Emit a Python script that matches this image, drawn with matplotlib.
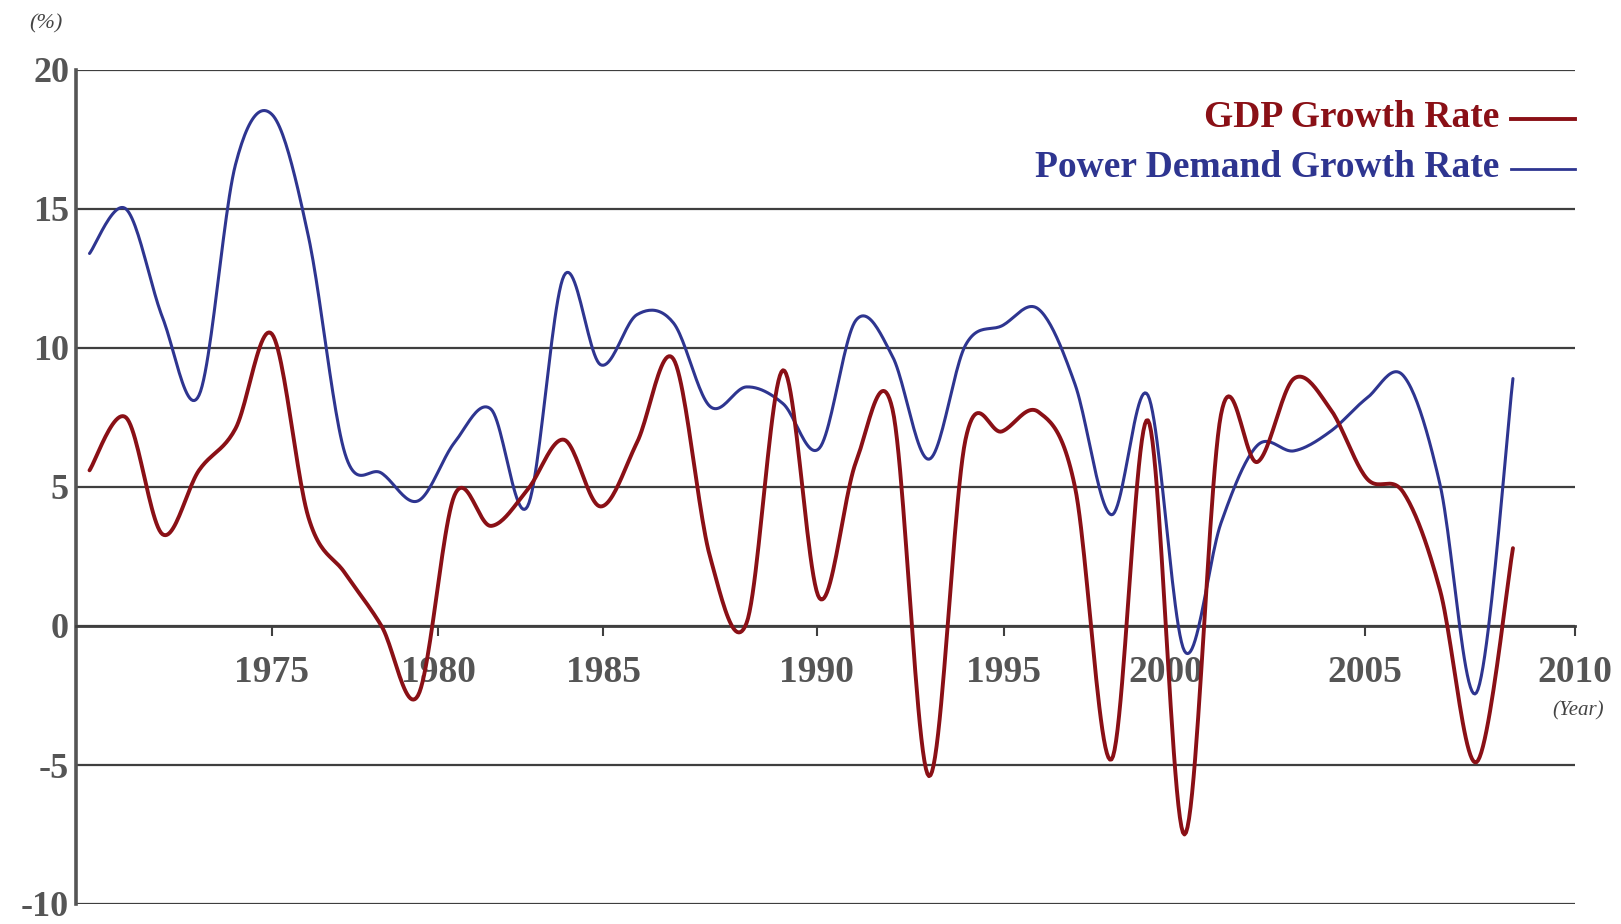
import numpy as np
import matplotlib
matplotlib.use("Agg")
import matplotlib.pyplot as plt

# ---- data ----
years = list(range(1970, 2010))
gdp_growth = [5.6, 7.5, 3.3, 5.6, 7.1, 10.5, 3.9, 1.9, 0.0, -2.5,
              4.7, 3.6, 4.9, 6.7, 4.3, 6.6, 9.6, 2.5, 0.1, 9.2,
              1.0, 5.9, 7.8, -5.4, 6.7, 7.0, 7.7, 5.0, -4.8, 7.4,
              -7.5, 7.6, 5.9, 8.9, 7.8, 5.3, 4.8, 1.3, -4.9, 2.8]
power_growth = [13.4, 15.0, 11.1, 8.3, 16.6, 18.4, 14.0, 6.2, 5.5, 4.5,
                6.6, 7.8, 4.3, 12.6, 9.4, 11.2, 10.9, 7.9, 8.6, 8.0,
                6.4, 11.0, 9.7, 6.0, 10.1, 10.8, 11.4, 8.7, 4.0, 8.3,
                -0.9, 3.7, 6.5, 6.3, 7.0, 8.2, 9.0, 5.1, -2.4, 8.9]
tick_labels = ["1975", "1980", "1985", "1990", "1995", "2000", "2005", "2010"]
# positions of the year labels along the axis, as placed in the reference
tick_pos = [1975.0, 1979.55, 1984.07, 1989.93, 1995.05, 1999.49, 2004.95, 2010.70]
y_ticks = [-10, -5, 0, 5, 10, 15, 20]
series_names = ["GDP Growth Rate", "Power Demand Growth Rate"]

RED = "#8A1016"
BLUE = "#2E3590"
GRID = "#3f3f3f"
LABEL = "#555555"


def smooth(x, y, n=24):
    """Excel-like smoothed line (uniform Catmull-Rom as cubic Bezier)."""
    p = np.column_stack([x, y]).astype(float)
    out = []
    m = len(p)
    t = np.linspace(0, 1, n, endpoint=False)[:, None]
    for i in range(m - 1):
        p0 = p[i - 1] if i > 0 else p[i]
        p1, p2 = p[i], p[i + 1]
        p3 = p[i + 2] if i + 2 < m else p[i + 1]
        c1 = p1 + (p2 - p0) / 6.0
        c2 = p2 - (p3 - p1) / 6.0
        seg = ((1 - t) ** 3) * p1 + 3 * ((1 - t) ** 2) * t * c1 + 3 * (1 - t) * t ** 2 * c2 + t ** 3 * p2
        out.append(seg)
    out.append(p[-1][None, :])
    out = np.vstack(out)
    return out[:, 0], out[:, 1]


fig = plt.figure(figsize=(16.21, 9.24), dpi=100)
ax = fig.add_axes([76 / 1621, 1 - 904 / 924, (1575 - 76) / 1621, (904 - 70) / 924])

bx, by = smooth(years, power_growth)
ax.plot(bx, by, color=BLUE, lw=2.2, solid_capstyle="round", zorder=3)
rx, ry = smooth(years, gdp_growth)
ax.plot(rx, ry, color=RED, lw=2.8, solid_capstyle="round", zorder=4)

ax.set_xlim(1969.63, 2010.70)
ax.set_ylim(-10, 20)

ax.set_yticks(y_ticks)
ax.set_yticklabels([str(v) for v in y_ticks])
ax.yaxis.grid(True, color=GRID, lw=1.6)
ax.set_axisbelow(True)

ax.set_xticks(tick_pos)
ax.set_xticklabels(tick_labels)

for s in ["top", "right"]:
    ax.spines[s].set_visible(False)
ax.spines["left"].set_color("#555555")
ax.spines["left"].set_linewidth(2.6)
ax.spines["bottom"].set_position(("data", 0))
ax.spines["bottom"].set_color(GRID)
ax.spines["bottom"].set_linewidth(2.0)

fp = dict(family="Liberation Serif", weight="bold")
ax.tick_params(axis="y", length=0, pad=5, labelsize=26, labelcolor=LABEL)
ax.tick_params(axis="x", direction="out", length=7, width=1.5, color=GRID,
               pad=14, labelsize=27, labelcolor=LABEL)
for lab in ax.get_xticklabels() + ax.get_yticklabels():
    lab.set_fontfamily("Liberation Serif")
    lab.set_fontweight("bold")

# legend (text followed by line sample)
leg_rows = [(series_names[0], RED, 2.8, 0.9430), (series_names[1], BLUE, 2.0, 0.8830)]
for name, col, lw, yy in leg_rows:
    ax.text(0.9493, yy, name, transform=ax.transAxes, ha="right", va="center",
            color=col, fontsize=27, **fp)
    ax.plot([0.9573, 1.0], [yy - 0.002, yy - 0.002], transform=ax.transAxes,
            color=col, lw=lw, clip_on=False)

fig.text(46 / 1621, 1 - 24 / 924, "(%)", ha="center", va="center", fontsize=16,
         family="Liberation Serif", style="italic", color="#444444")
fig.text(1578 / 1621, 1 - 711 / 924, "(Year)", ha="center", va="center", fontsize=15,
         family="Liberation Serif", style="italic", color="#444444")

fig.savefig("out.png", dpi=100, facecolor="white")
